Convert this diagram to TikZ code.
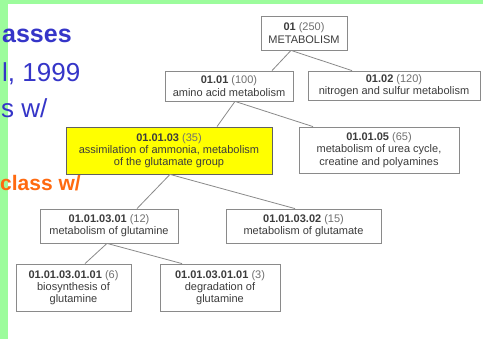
\documentclass[tikz,border=0pt]{standalone}
\usepackage{fontspec}
\setmainfont{Liberation Sans}
\usepackage{xcolor}
\definecolor{sg}{HTML}{9CFC9C}
\definecolor{sb}{HTML}{3535C8}
\definecolor{so}{HTML}{FF6A10}
\definecolor{ky}{HTML}{FFFF00}
\definecolor{kl}{HTML}{8A8A8A}
\definecolor{kt}{HTML}{3C3C3C}
\definecolor{kc}{HTML}{707070}

\tikzset{
  catbox/.style={draw=kl,line width=0.8pt,fill=white,text=kt,align=center,inner sep=0pt,
    font=\fontsize{11}{12.3}\selectfont},
  hilite/.style={catbox,fill=ky,draw=kl!70!black},
  treeline/.style={kl,line width=0.8pt},
  slidetext/.style={anchor=base west,inner sep=0pt,text=sb,font=\fontsize{26}{30}\selectfont},
  slidebold/.style={anchor=base west,inner sep=0pt,font=\fontsize{25}{30}\selectfont\bfseries}
}

\begin{document}
\begin{tikzpicture}[x=1pt,y=-1pt]
  \useasboundingbox (0,0) rectangle (483,339);
  \clip (0,0) rectangle (483,339);
  \fill[white] (0,0) rectangle (483,339);

  % green slide frame
  \fill[sg] (0,0) rectangle (8,339);
  \fill[sg] (0,0) rectangle (483,4);

  % slide text, cut off by the pasted tree
  \node[slidebold,text=sb] (t1) at (2,43) {asses};
  \node[slidetext] (t2) at (2,82) {l, 1999};
  \node[slidetext] (t3) at (1,118) {s w/};
  \node[slidebold,text=so,font=\fontsize{21}{25}\selectfont\bfseries] (t4) at (0,191) {class w/};

  % category tree
  \node[catbox,minimum width=86pt,minimum height=34pt] (root) at (304,33)
    {\textbf{01} {\color{kc}(250)}\\METABOLISM};
  \node[catbox,minimum width=128pt,minimum height=30pt] (n0101) at (229,86)
    {\textbf{01.01} {\color{kc}(100)}\\amino acid metabolism};
  \node[catbox,minimum width=172pt,minimum height=29pt] (n0102) at (394,85.5)
    {\textbf{01.02} {\color{kc}(120)}\\nitrogen and sulfur metabolism};
  \node[hilite,minimum width=206pt,minimum height=47pt] (n010103) at (169,150.5)
    {\textbf{01.01.03} {\color{kc}(35)}\\assimilation of ammonia, metabolism\\of the glutamate group};
  \node[catbox,minimum width=160pt,minimum height=46pt] (n010105) at (379,150)
    {\textbf{01.01.05} {\color{kc}(65)}\\metabolism of urea cycle,\\creatine and polyamines};
  \node[catbox,minimum width=138pt,minimum height=34pt] (n01010301) at (109,226)
    {\textbf{01.01.03.01} {\color{kc}(12)}\\metabolism of glutamine};
  \node[catbox,minimum width=155pt,minimum height=34pt] (n01010302) at (303.5,226)
    {\textbf{01.01.03.02} {\color{kc}(15)}\\metabolism of glutamate};
  \node[catbox,minimum width=115pt,minimum height=47pt] (leafa) at (73.5,287.5)
    {\textbf{01.01.03.01.01} {\color{kc}(6)}\\biosynthesis of\\glutamine};
  \node[catbox,minimum width=120pt,minimum height=47pt] (leafb) at (220,287.5)
    {\textbf{01.01.03.01.01} {\color{kc}(3)}\\degradation of\\glutamine};

  % parent -> child lines (shift along bottom / top edge)
  \foreach \pa/\sa/\ch/\sc in {root/-13/n0101/43, root/-13/n0102/-42,
      n0101/6/n010103/48, n0101/6/n010105/-66,
      n010103/1/n01010301/28, n010103/1/n01010302/-8.5,
      n01010301/-2/leafa/11.5, n01010301/-2/leafb/-38} {
    \draw[treeline] ([xshift=\sa]\pa.south) -- ([xshift=\sc]\ch.north);
  }
\end{tikzpicture}
\end{document}
